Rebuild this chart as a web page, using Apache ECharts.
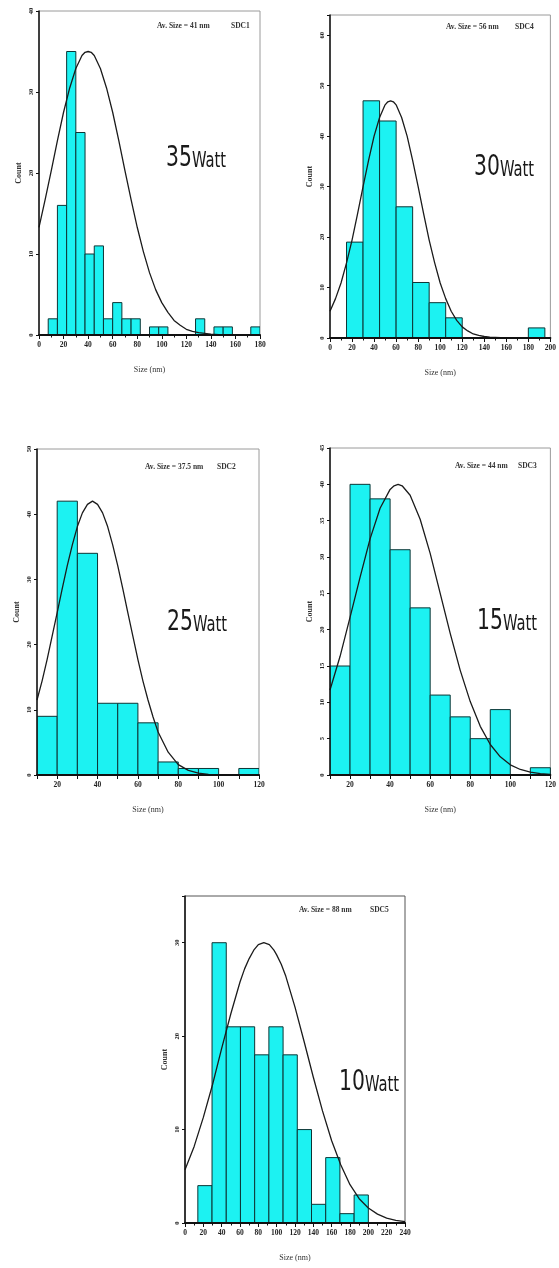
<!DOCTYPE html>
<html>
<head>
<meta charset="utf-8">
<script src="https://cdn.jsdelivr.net/npm/echarts@6/dist/echarts.min.js"></script>
<style>
html,body{margin:0;padding:0;background:#fff;}
#chart{width:559px;height:1268px;}
</style>
</head>
<body>
<div id="chart"></div>
<script>
// ---------- DATA ----------
// Panel 1 : 35 Watt (SDC1)
const p1BinStart = [7.5, 15, 22.5, 30, 37.5, 45, 52.5, 60, 67.5, 75, 90, 97.5, 127.5, 142.5, 150, 172.5];
const p1Counts   = [2, 16, 35, 25, 10, 11, 2, 4, 2, 2, 1, 1, 2, 1, 1, 1];
const p1BinWidth = 7.5;
const p1CurveX = [0,5,10,15,20,25,30,35,37.5,40,42.5,45,50,55,60,65,70,75,80,85,90,95,100,105,110,115,120,125,130,140,150,160,170,180];
const p1CurveY = [13.3,16.7,20.3,24.0,27.5,30.5,32.9,34.5,34.9,35,34.9,34.5,32.9,30.5,27.5,24.0,20.3,16.7,13.3,10.3,7.7,5.6,4.0,2.8,1.8,1.2,0.7,0.45,0.3,0.1,0,0,0,0];
const p1XTicks = [0, 180, 20];
const p1YTicks = [0, 40, 10];

// Panel 2 : 30 Watt (SDC4)
const p2BinStart = [15, 30, 45, 60, 75, 90, 105, 180];
const p2Counts   = [19, 47, 43, 26, 11, 7, 4, 2];
const p2BinWidth = 15;
const p2CurveX = [0,5,10,15,20,25,30,35,40,45,50,52.5,55,57.5,60,65,70,75,80,85,90,95,100,105,110,115,120,125,130,135,140,145,150,160,170,180,190,200];
const p2CurveY = [5.3,7.8,10.9,14.9,19.4,24.6,30.0,35.2,40.0,43.7,46.2,46.8,47,46.8,46.2,43.7,40.0,35.2,30.0,24.6,19.4,14.9,10.9,7.8,5.3,3.5,2.2,1.4,0.8,0.5,0.3,0.15,0.1,0,0,0,0,0];
const p2XTicks = [0, 200, 20];
const p2YTicks = [0, 64, 10];

// Panel 3 : 25 Watt (SDC2)
const p3BinStart = [10, 20, 30, 40, 50, 60, 70, 80, 90, 110];
const p3Counts   = [9, 42, 34, 11, 11, 8, 2, 1, 1, 1];
const p3BinWidth = 10;
const p3CurveX = [10,12.5,15,17.5,20,22.5,25,27.5,30,32.5,35,37.5,40,42.5,45,47.5,50,52.5,55,57.5,60,62.5,65,67.5,70,75,80,85,90,95,100,110,120];
const p3CurveY = [11.5,14.4,17.7,21.3,24.9,28.6,32.1,35.3,38.1,40.2,41.5,42,41.5,40.2,38.1,35.3,32.1,28.6,24.9,21.3,17.7,14.4,11.5,8.9,6.6,3.5,1.6,0.7,0.3,0.1,0,0,0];
const p3XTicks = [10, 120, 10];
const p3YTicks = [0, 50, 10];

// Panel 4 : 15 Watt (SDC3)
const p4BinStart = [10, 20, 30, 40, 50, 60, 70, 80, 90, 110];
const p4Counts   = [15, 40, 38, 31, 23, 11, 8, 5, 9, 1];
const p4BinWidth = 10;
const p4CurveX = [10,15,20,25,30,35,40,42,44,46,50,55,60,65,70,75,80,85,90,95,100,105,110,115,120];
const p4CurveY = [11.7,16.3,21.7,27.2,32.5,36.7,39.3,39.8,40,39.8,38.5,35.2,30.5,25.0,19.5,14.4,10.1,6.7,4.2,2.5,1.4,0.76,0.39,0.19,0.09];
const p4XTicks = [10, 120, 10];
const p4YTicks = [0, 45, 5];

// Panel 5 : 10 Watt (SDC5)
const p5BinStart = [14, 29.5, 45, 60.5, 76, 91.5, 107, 122.5, 138, 153.5, 169, 184.5];
const p5Counts   = [4, 30, 21, 21, 18, 21, 18, 10, 2, 7, 1, 3];
const p5BinWidth = 15.5;
const p5CurveX = [0,10,20,30,40,50,60,65,70,75,80,86,92,97,100,105,110,120,130,140,150,160,170,180,190,200,210,220,230,240];
const p5CurveY = [5.7,8.2,11.3,14.8,18.7,22.4,25.8,27.2,28.3,29.2,29.8,30,29.8,29.2,28.7,27.7,26.4,23.1,19.4,15.6,12.0,8.8,6.2,4.1,2.6,1.6,0.95,0.53,0.29,0.15];
const p5XTicks = [0, 240, 20];
const p5YTicks = [0, 35, 10];

const watts   = ['35', '30', '25', '15', '10'];
const avSizes = ['Av. Size = 41 nm', 'Av. Size = 56 nm', 'Av. Size = 37.5 nm', 'Av. Size = 44 nm', 'Av. Size = 88 nm'];
const sdcNames = ['SDC1', 'SDC4', 'SDC2', 'SDC3', 'SDC5'];
const xName = 'Size (nm)';
const yName = 'Count';

// ---------- LAYOUT ----------
const panels = [
  {bins:p1BinStart, counts:p1Counts, bw:p1BinWidth, cx:p1CurveX, cy:p1CurveY, xt:p1XTicks, yt:p1YTicks,
   grid:{left:39, top:11, width:221, height:324}, border:'#9a9a9a',
   av:[157,27], sdc:[231,27], watt:[166,158]},
  {bins:p2BinStart, counts:p2Counts, bw:p2BinWidth, cx:p2CurveX, cy:p2CurveY, xt:p2XTicks, yt:p2YTicks,
   grid:{left:330, top:15, width:226, height:323}, border:'#9a9a9a',
   av:[446,28], sdc:[515,28], watt:[474,167]},
  {bins:p3BinStart, counts:p3Counts, bw:p3BinWidth, cx:p3CurveX, cy:p3CurveY, xt:p3XTicks, yt:p3YTicks,
   grid:{left:37, top:449, width:222, height:326}, border:'#9a9a9a',
   av:[145,468], sdc:[217,468], watt:[167,622]},
  {bins:p4BinStart, counts:p4Counts, bw:p4BinWidth, cx:p4CurveX, cy:p4CurveY, xt:p4XTicks, yt:p4YTicks,
   grid:{left:330, top:448, width:221, height:327}, border:'#9a9a9a',
   av:[455,467], sdc:[518,467], watt:[477,621]},
  {bins:p5BinStart, counts:p5Counts, bw:p5BinWidth, cx:p5CurveX, cy:p5CurveY, xt:p5XTicks, yt:p5YTicks,
   grid:{left:185, top:896, width:220, height:327}, border:'#555',
   av:[299,911], sdc:[370,911], watt:[339,1082]}
];

const tickFont = {fontFamily:'Liberation Serif', fontSize:7.5, fontWeight:'bold', color:'#222'};
const grids = [], xAxes = [], yAxes = [], series = [], graphics = [];

panels.forEach((p, i) => {
  grids.push(Object.assign({show:true, borderColor:p.border, borderWidth:1, containLabel:false}, p.grid));
  const yInt = p.yt[2];
  xAxes.push({
    type:'value', gridIndex:i, min:p.xt[0], max:p.xt[1], interval:p.xt[2], z:10,
    name:xName, nameLocation:'middle', nameGap:31,
    nameTextStyle:{fontFamily:'Liberation Serif', fontSize:8, color:'#333'},
    axisLine:{show:true, onZero:false, lineStyle:{color:'#111', width:2}},
    axisTick:{show:true, inside:false, length:4, lineStyle:{color:'#111', width:1}},
    minorTick:{show: p.xt[2] === 20, splitNumber:2, length:2.5, lineStyle:{color:'#111'}},
    splitLine:{show:false},
    axisLabel:Object.assign({margin:6, formatter:v => (Math.abs(v % 20) < 1e-9 ? String(v) : '')}, tickFont)
  });
  yAxes.push({
    type:'value', gridIndex:i, min:p.yt[0], max:p.yt[1], interval:yInt, z:10,
    name:yName, nameLocation:'middle', nameGap:16, nameRotate:90,
    nameTextStyle:{fontFamily:'Liberation Serif', fontSize:8, fontWeight:'bold', color:'#333'},
    axisLine:{show:true, onZero:false, lineStyle:{color:'#111', width:1.5}},
    axisTick:{show:true, inside:false, length:3, lineStyle:{color:'#111', width:1}},
    splitLine:{show:false},
    axisLabel:Object.assign({}, tickFont, {margin:4, rotate:90, fontSize:6.5,
      formatter:v => (Math.abs(v % yInt) < 1e-9 ? String(v) : '')})
  });
  const binData = p.bins.map((s, k) => [s, s + p.bw, p.counts[k]]);
  series.push({
    type:'custom', xAxisIndex:i, yAxisIndex:i, z:2, clip:true,
    encode:{x:[0,1], y:2},
    data:binData,
    renderItem:(params, api) => {
      const a = api.coord([api.value(0), api.value(2)]);
      const b = api.coord([api.value(1), 0]);
      return {type:'rect', shape:{x:a[0], y:a[1], width:b[0]-a[0], height:b[1]-a[1]},
              style:{fill:'#1cf2f2', stroke:'#0d3535', lineWidth:1}};
    }
  });
  series.push({
    type:'line', xAxisIndex:i, yAxisIndex:i, z:5, smooth:false, showSymbol:false, symbol:'none',
    lineStyle:{color:'#1b1b1b', width:1.3, join:'round'},
    data:p.cx.map((x, k) => [x, p.cy[k]])
  });
  graphics.push({type:'text', left:p.av[0], top:p.av[1]-5, z:20,
    style:{text:avSizes[i], font:'bold 7.5px "Liberation Serif"', fill:'#333'}});
  graphics.push({type:'text', left:p.sdc[0], top:p.sdc[1]-5, z:20,
    style:{text:sdcNames[i], font:'bold 7.5px "Liberation Serif"', fill:'#333'}});
  graphics.push({type:'text', x:p.watt[0], y:p.watt[1], scaleX:0.78, z:20,
    style:{text:'{a|' + watts[i] + '}{b|Watt}', fill:'#1a1a1a', verticalAlign:'middle', align:'left',
      rich:{
        a:{fontFamily:'"Liberation Sans Narrow","DejaVu Sans Condensed",sans-serif', fontSize:29, fill:'#1a1a1a', verticalAlign:'bottom'},
        b:{fontFamily:'"Liberation Sans Narrow","DejaVu Sans Condensed",sans-serif', fontSize:21, fill:'#1a1a1a', verticalAlign:'bottom'}
      }}});
});

const chart = echarts.init(document.getElementById('chart'), null, {renderer:'canvas'});
chart.setOption({
  backgroundColor:'#ffffff',
  animation:false,
  grid:grids, xAxis:xAxes, yAxis:yAxes, series:series, graphic:graphics
});
</script>
</body>
</html>
